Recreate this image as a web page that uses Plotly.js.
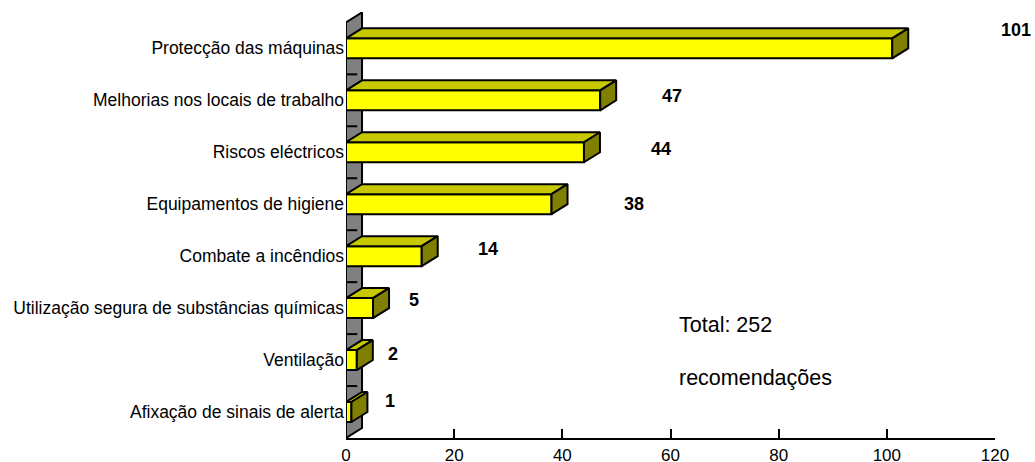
<!DOCTYPE html>
<html>
<head>
<meta charset="utf-8">
<script src="https://cdn.plot.ly/plotly-3.0.1.min.js"></script>
<style>
  html, body { margin: 0; padding: 0; background: #fff; }
  #chart { width: 1035px; height: 462px; }
</style>
</head>
<body>
<div id="chart"></div>
<script>
// Recommendations by topic
const categories = [
  "Protecção das máquinas",
  "Melhorias nos locais de trabalho",
  "Riscos eléctricos",
  "Equipamentos de higiene",
  "Combate a incêndios",
  "Utilização segura de substâncias químicas",
  "Ventilação",
  "Afixação de sinais de alerta"
];
const recommendations = [101, 47, 44, 38, 14, 5, 2, 1];
const totalLines = ["Total: 252", "recomendações"];
const xTicks = [0, 20, 40, 60, 80, 100, 120];

// Geometry of the plot and the pseudo-3D extrusion
const W = 1035, H = 462;
const M = { l: 346, r: 40, t: 12, b: 24 };
const xRange = [0, 120];
const yRange = [7.5, -0.7];
const plotW = W - M.l - M.r;
const plotH = H - M.t - M.b;
const pxPerX = plotW / (xRange[1] - xRange[0]);
const pxPerY = plotH / Math.abs(yRange[0] - yRange[1]);
const depthX = 16 / pxPerX;     // extrusion to the right
const depthY = 10 / pxPerY;     // extrusion upwards (y axis is reversed)
const barH = 20 / pxPerY;       // thickness of the front face

const font = "'Liberation Sans', Arial, sans-serif";
const idx = categories.map((_, i) => i);

// Top and side faces of each bar as filled polygons
const topX = [], topY = [], sideX = [], sideY = [];
recommendations.forEach((v, i) => {
  const yt = i - barH / 2, yb = i + barH / 2;
  topX.push(0, depthX, v + depthX, v, 0, null);
  topY.push(yt, yt - depthY, yt - depthY, yt, yt, null);
  sideX.push(v, v + depthX, v + depthX, v, v, null);
  sideY.push(yt, yt - depthY, yb - depthY, yb, yt, null);
});

const traces = [
  {
    type: "bar", orientation: "h",
    x: recommendations, y: idx, width: barH,
    marker: { color: "#ffff00", line: { color: "#000", width: 2 } },
    hoverinfo: "skip"
  },
  {
    type: "scatter", mode: "lines", x: topX, y: topY,
    fill: "toself", fillcolor: "#c8c800",
    line: { color: "#000", width: 2 }, hoverinfo: "skip"
  },
  {
    type: "scatter", mode: "lines", x: sideX, y: sideY,
    fill: "toself", fillcolor: "#808000",
    line: { color: "#000", width: 2 }, hoverinfo: "skip"
  }
];

// Grey back wall behind the bars, with its tick dashes
const yLo = yRange[0], yHi = -0.5;
const shapes = [{
  type: "path", xref: "x", yref: "y", layer: "below",
  path: `M0,${yLo} L${depthX},${yLo - depthY} L${depthX},${yHi - depthY} L0,${yHi} Z`,
  fillcolor: "#808080", line: { color: "#000", width: 2 }
}];
for (let k = 0; k < categories.length - 1; k++) {
  shapes.push({
    type: "line", xref: "x", yref: "y", layer: "below",
    x0: 0, x1: depthX * 0.7, y0: k + 0.5, y1: k + 0.5,
    line: { color: "#000", width: 2 }
  });
}

// Value labels: pixel offsets from the end of each bar
const labelOffsets = [[124, 18], [72, 4], [77, 3], [82, 0], [66, 7], [41, 8], [36, 6], [39, 11]];
const annotations = recommendations.map((v, i) => ({
  x: v, y: i, xref: "x", yref: "y",
  text: String(v), showarrow: false,
  xanchor: "center", yanchor: "middle",
  xshift: labelOffsets[i][0], yshift: labelOffsets[i][1],
  font: { family: font, size: 18, color: "#000", weight: "bold" }
}));
const totalY = [0.265, 0.14];
totalLines.forEach((t, i) => annotations.push({
  x: (680 - M.l) / plotW, y: totalY[i], xref: "paper", yref: "paper",
  text: t, showarrow: false, xanchor: "left", yanchor: "middle", xshift: -3,
  font: { family: font, size: 21.5, color: "#000" }
}));

const layout = {
  width: W, height: H,
  margin: M,
  paper_bgcolor: "#fff", plot_bgcolor: "rgba(0,0,0,0)",
  showlegend: false, hovermode: false,
  font: { family: font, size: 17.5, color: "#000" },
  xaxis: {
    range: xRange, tickvals: xTicks, ticktext: xTicks.map(String),
    ticks: "inside", ticklen: 9, tickwidth: 2, tickcolor: "#000",
    showline: true, linecolor: "#000", linewidth: 2,
    showgrid: false, zeroline: false, ticklabelstandoff: 1,
    tickfont: { family: font, size: 17 }, fixedrange: true
  },
  yaxis: {
    range: yRange, tickvals: idx, ticktext: categories,
    ticks: "", showline: false, showgrid: false, zeroline: false,
    ticklabelstandoff: 1,
    tickfont: { family: font, size: 17.5 }, fixedrange: true
  },
  shapes: shapes,
  annotations: annotations
};

Plotly.newPlot("chart", traces, layout, { displayModeBar: false, staticPlot: true });
</script>
</body>
</html>
